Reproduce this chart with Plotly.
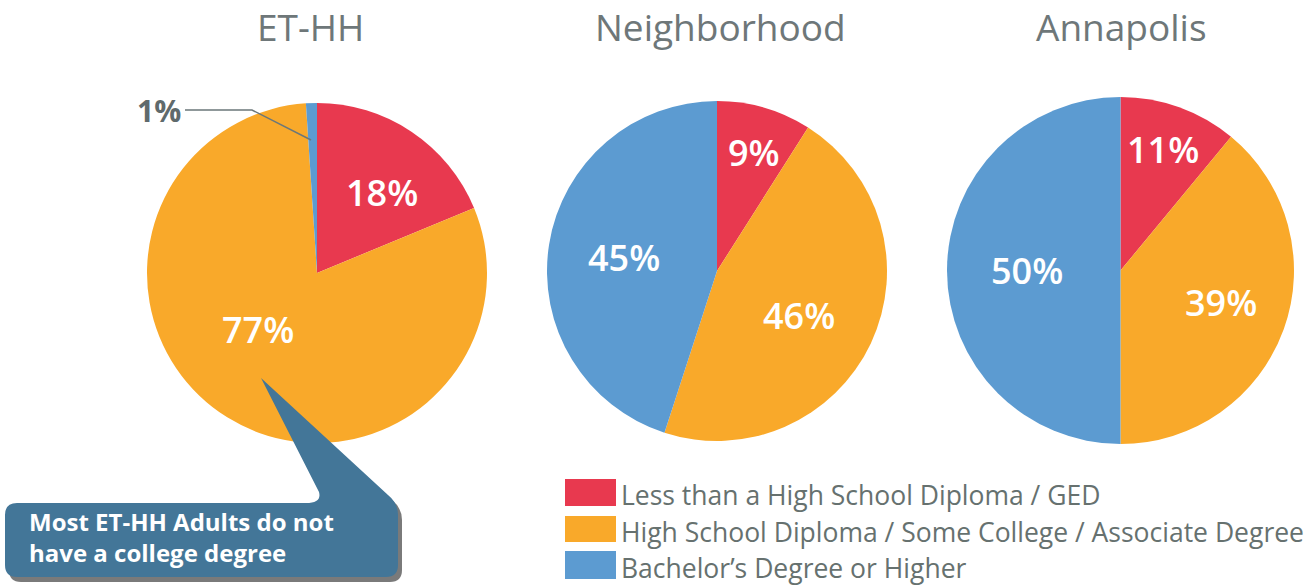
import math
import plotly.graph_objects as go

W, H = 1306, 585

# ---------------- data ----------------
categories = [
    "Less than a High School Diploma / GED",
    "High School Diploma / Some College / Associate Degree",
    "Bachelor’s Degree or Higher",
]
areas = ["ET-HH", "Neighborhood", "Annapolis"]
et_hh = [18, 77, 1]
neighborhood = [9, 46, 45]
annapolis = [11, 39, 50]
callout_text = "Most ET-HH Adults do not<br>have a college degree"

# ---------------- style ----------------
colors = ["#E8394F", "#F9A92A", "#5C9BD1"]
FONT = "Open Sans"

pie_geo = [(317, 273, 170), (717, 271, 170), (1120.5, 270.5, 173.5)]  # cx, cy, r (px)
title_x = [310, 720, 1121]
# (angle tweak deg, radial fraction) for each in-slice label; None = outside label
label_style = [
    [(5, 0.61), (14.5, 0.48), None],
    [(1, 0.73), (3, 0.55), (-1, 0.55)],
    [(-0.5, 0.74), (-2, 0.61), (0, 0.54)],
]


def px(x):
    return x / W


def py(y):
    return 1 - y / H


fig = go.Figure()
annotations = []
shapes = []

series = [et_hh, neighborhood, annapolis]
for k, (name, vals) in enumerate(zip(areas, series)):
    cx, cy, r = pie_geo[k]
    fig.add_trace(go.Pie(
        labels=categories, values=vals, name=name,
        sort=False, direction="clockwise", rotation=0,
        marker=dict(colors=colors, line=dict(width=0)),
        textinfo="none", hoverinfo="skip", showlegend=False,
        domain=dict(x=[px(cx - r), px(cx + r)], y=[py(cy + r), py(cy - r)]),
    ))
    # title
    annotations.append(dict(
        x=px(title_x[k]), y=1, xref="paper", yref="paper",
        text=name, showarrow=False, xanchor="center", yanchor="top", borderpad=0,
        font=dict(family=FONT, size=37, color="#6E7779"),
    ))
    total = float(sum(vals))
    cum = 0.0
    for i, v in enumerate(vals):
        start, end = cum / total, (cum + v) / total
        cum += v
        st = label_style[k][i]
        if st is None:
            continue
        ang = math.radians(360 * (start + end) / 2 + st[0])
        lx = cx + st[1] * r * math.sin(ang)
        ly = cy - st[1] * r * math.cos(ang)
        annotations.append(dict(
            x=px(lx), y=py(ly), xref="paper", yref="paper",
            text=f"{v}%", showarrow=False, xanchor="center", yanchor="middle",
            font=dict(family=FONT, size=36, color="white", weight=600),
        ))

# outside label for the small ET-HH slice
annotations.append(dict(
    x=px(158.5), y=py(110), xref="paper", yref="paper",
    text=f"{et_hh[2]}%", showarrow=False, xanchor="center", yanchor="middle",
    font=dict(family=FONT, size=30, color="#5F6A6C", weight=700),
))
shapes.append(dict(
    type="path", xref="paper", yref="paper",
    path=f"M {px(185)},{py(110)} L {px(252)},{py(110)} L {px(311)},{py(140)}",
    line=dict(color="#6B7779", width=1.5),
))


# callout bubble
def bubble(dx=0, dy=0):
    pts = [
        ("M", 17, 503), ("L", 306, 503), ("Q", 322, 503, 319, 492), ("L", 261, 378),
        ("L", 388, 495), ("Q", 398, 503, 398, 515), ("L", 398, 565),
        ("Q", 398, 577, 386, 577), ("L", 17, 577), ("Q", 5, 577, 5, 565),
        ("L", 5, 515), ("Q", 5, 503, 17, 503),
    ]
    out = []
    for p in pts:
        cmd = p[0]
        coords = p[1:]
        seg = [cmd]
        for j in range(0, len(coords), 2):
            seg.append(f"{px(coords[j] + dx)},{py(coords[j + 1] + dy)}")
        out.append(" ".join(seg))
    return " ".join(out) + " Z"


shapes.append(dict(type="path", xref="paper", yref="paper", path=bubble(4, 5),
                   fillcolor="rgba(50,50,50,0.65)", line=dict(width=0)))
shapes.append(dict(type="path", xref="paper", yref="paper", path=bubble(),
                   fillcolor="#437698", line=dict(width=0)))
annotations.append(dict(
    x=px(27), y=py(537), xref="paper", yref="paper",
    text=callout_text, showarrow=False, xanchor="left", yanchor="middle", align="left",
    font=dict(family=FONT, size=24, color="white", weight=700),
))

# legend
rows = [(479, 506), (516, 542), (551, 579)]
for i, cat in enumerate(categories):
    y0, y1 = rows[i]
    shapes.append(dict(type="rect", xref="paper", yref="paper",
                       x0=px(565), x1=px(616), y0=py(y1), y1=py(y0),
                       fillcolor=colors[i], line=dict(width=0)))
    annotations.append(dict(
        x=px(620), y=py((y0 + y1) / 2 + 2.5), xref="paper", yref="paper",
        text=cat, showarrow=False, xanchor="left", yanchor="middle", borderpad=0,
        font=dict(family=FONT, size=26.5, color="#66716F"),
    ))

fig.update_layout(
    width=W, height=H,
    margin=dict(l=0, r=0, t=0, b=0),
    paper_bgcolor="white", plot_bgcolor="white",
    annotations=annotations, shapes=shapes,
    showlegend=False,
)

fig.write_html("out.html", config={"displayModeBar": False},
               post_script="document.body.style.margin='0';")
